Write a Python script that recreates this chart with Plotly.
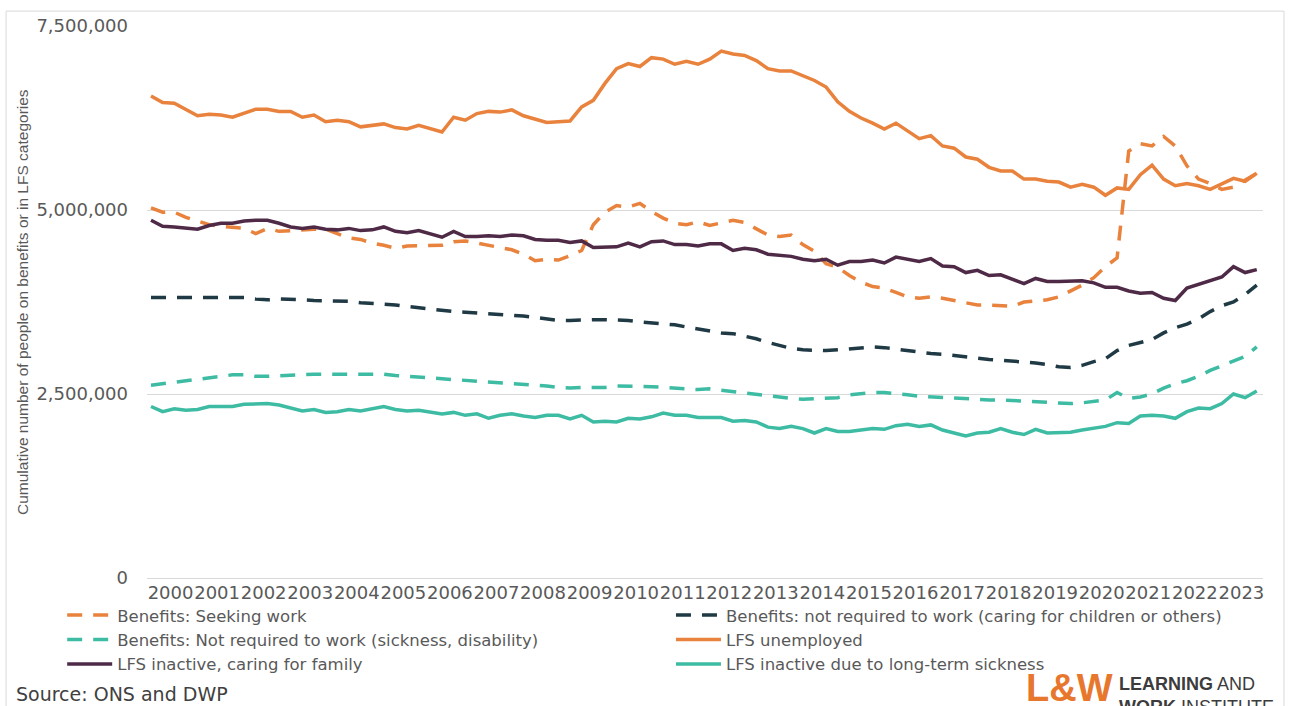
import plotly.graph_objects as go

years = list(range(2000, 2024))
x_q = [y + q / 4 for y in years for q in range(4)]
tick_labels = [str(y) for y in years]

# values in millions, quarterly 2000 Q1 .. 2023 Q4
lfs_unemployed = [
    6.55, 6.46, 6.45, 6.36, 6.28, 6.30, 6.29, 6.26, 6.32, 6.37, 6.37, 6.34, 6.34, 6.26, 6.29, 6.20,
    6.22, 6.20, 6.13, 6.15, 6.17, 6.12, 6.10, 6.15, 6.10,
    6.06, 6.26, 6.22, 6.31, 6.34, 6.33, 6.36, 6.28, 6.23, 6.19, 6.20, 6.21, 6.40, 6.49, 6.72,
    6.92, 6.99, 6.95, 7.07, 7.05, 6.98, 7.02, 6.98, 7.05,
    7.16, 7.12, 7.10, 7.03, 6.92, 6.89, 6.89, 6.82, 6.76, 6.67, 6.47, 6.34, 6.25, 6.18, 6.10,
    6.18, 6.08, 5.97, 6.01, 5.87, 5.84, 5.72, 5.69, 5.58,
    5.53, 5.53, 5.42, 5.42, 5.39, 5.38, 5.31, 5.35, 5.31, 5.20, 5.30, 5.28, 5.48, 5.61, 5.42,
    5.33, 5.36, 5.33, 5.28, 5.36, 5.43, 5.39, 5.50,
]
seeking_work = [
    5.03, 4.97, 4.97, 4.90, 4.85, 4.80, 4.78, 4.76, 4.75, 4.68, 4.75, 4.71, 4.72, 4.74, 4.74, 4.74,
    4.68, 4.62, 4.60, 4.55, 4.52, 4.48, 4.51, 4.51, 4.51, 4.52, 4.57, 4.58, 4.55, 4.52, 4.49, 4.46,
    4.40, 4.31, 4.33, 4.32, 4.38, 4.45, 4.80, 4.97, 5.06, 5.04, 5.09, 4.98, 4.89, 4.82, 4.80, 4.84,
    4.79, 4.83, 4.86, 4.83, 4.75, 4.66, 4.64, 4.66, 4.53, 4.44, 4.27, 4.22, 4.11, 4.02, 3.96, 3.94,
    3.88, 3.82, 3.80, 3.82, 3.80, 3.77, 3.73, 3.71, 3.71, 3.70, 3.69, 3.75, 3.77, 3.78, 3.82, 3.90,
    3.98, 4.08, 4.23, 4.35, 5.80, 5.90, 5.87, 6.00, 5.87, 5.60, 5.42, 5.36, 5.28, 5.31, 5.40, 5.50,
]
lfs_caring_family = [
    4.86, 4.78, 4.77, 4.75, 4.74, 4.79, 4.82, 4.82, 4.85, 4.86, 4.86, 4.82, 4.77, 4.75, 4.77, 4.74,
    4.73, 4.75, 4.72, 4.73, 4.77, 4.71, 4.69, 4.72, 4.68,
    4.63, 4.71, 4.64, 4.64, 4.65, 4.64, 4.66, 4.65, 4.60, 4.59, 4.59, 4.56, 4.58, 4.49, 4.49,
    4.50, 4.55, 4.50, 4.57, 4.58, 4.53, 4.53, 4.51, 4.54,
    4.54, 4.45, 4.48, 4.46, 4.40, 4.38, 4.37, 4.33, 4.31, 4.33, 4.25, 4.30, 4.30, 4.32, 4.28,
    4.36, 4.33, 4.30, 4.34, 4.24, 4.23, 4.15, 4.18, 4.11,
    4.12, 4.06, 4.00, 4.07, 4.03, 4.03, 4.03, 4.04, 4.01, 3.95, 3.95, 3.90, 3.87, 3.88, 3.80,
    3.77, 3.94, 3.99, 4.05, 4.09, 4.23, 4.15, 4.19,
]
caring_benefits = [
    3.81, 3.81, 3.81, 3.81, 3.81, 3.82, 3.82, 3.82, 3.81, 3.79, 3.78, 3.79, 3.79, 3.78, 3.77, 3.77,
    3.76, 3.76, 3.74, 3.73, 3.73, 3.71, 3.69, 3.67, 3.66, 3.64, 3.62, 3.61, 3.60, 3.60, 3.59, 3.57,
    3.56, 3.54, 3.52, 3.50, 3.50, 3.51, 3.51, 3.51, 3.51, 3.50, 3.48, 3.47, 3.46, 3.44, 3.41, 3.38,
    3.35, 3.33, 3.32, 3.29, 3.25, 3.20, 3.16, 3.12, 3.10, 3.09, 3.09, 3.10, 3.11, 3.13, 3.14, 3.13,
    3.11, 3.09, 3.06, 3.05, 3.04, 3.02, 3.00, 2.99, 2.97, 2.96, 2.95, 2.94, 2.92, 2.90, 2.87, 2.86,
    2.89, 2.94, 2.98, 3.09, 3.16, 3.20, 3.24, 3.33, 3.40, 3.45, 3.52, 3.62, 3.70, 3.75, 3.85, 3.98,
]
sickness_benefits = [
    2.62, 2.64, 2.66, 2.68, 2.70, 2.73, 2.75, 2.76, 2.76, 2.74, 2.74, 2.75, 2.76, 2.77, 2.77, 2.77,
    2.77, 2.77, 2.76, 2.77, 2.77, 2.75, 2.74, 2.72, 2.71, 2.70, 2.69, 2.68, 2.67, 2.67, 2.66, 2.64,
    2.63, 2.62, 2.61, 2.59, 2.58, 2.59, 2.59, 2.59, 2.61, 2.61, 2.60, 2.60, 2.59, 2.58, 2.57, 2.56,
    2.57, 2.55, 2.53, 2.52, 2.50, 2.48, 2.46, 2.44, 2.43, 2.44, 2.44, 2.45, 2.49, 2.51, 2.52, 2.52,
    2.51, 2.49, 2.47, 2.46, 2.46, 2.45, 2.44, 2.43, 2.42, 2.42, 2.41, 2.40, 2.39, 2.38, 2.38, 2.37,
    2.38, 2.40, 2.42, 2.52, 2.44, 2.46, 2.50, 2.58, 2.64, 2.68, 2.74, 2.82, 2.88, 2.95, 3.01, 3.14,
]
lfs_longterm_sick = [
    2.33, 2.26, 2.30, 2.28, 2.29, 2.33, 2.33, 2.33, 2.36, 2.37, 2.37, 2.35, 2.31, 2.27, 2.29, 2.25,
    2.26, 2.29, 2.27, 2.30, 2.33, 2.29, 2.27, 2.28, 2.25,
    2.23, 2.25, 2.21, 2.23, 2.17, 2.21, 2.23, 2.20, 2.18, 2.21, 2.21, 2.16, 2.21, 2.12, 2.13,
    2.12, 2.17, 2.16, 2.19, 2.24, 2.21, 2.21, 2.18, 2.18,
    2.18, 2.13, 2.14, 2.12, 2.05, 2.03, 2.06, 2.03, 1.97, 2.03, 1.99, 1.99, 2.01, 2.03, 2.02,
    2.07, 2.09, 2.06, 2.08, 2.01, 1.97, 1.93, 1.97, 1.98,
    2.03, 1.98, 1.95, 2.02, 1.97, 1.98, 1.98, 2.01, 2.03, 2.06, 2.11, 2.10, 2.20, 2.21, 2.20,
    2.17, 2.26, 2.31, 2.30, 2.37, 2.50, 2.45, 2.54,
]

ORANGE = "#E8823C"
PURPLE = "#4E2A47"
DARK = "#1F3A44"
TEAL = "#3DBCA3"
GREY = "#595959"
DASH = "15px,11px"
LW = 3.5

series = [
    ("Benefits: Seeking work", seeking_work, ORANGE, DASH, "legend"),
    ("Benefits: Not required to work (sickness, disability)", sickness_benefits, TEAL, DASH, "legend"),
    ("LFS inactive, caring for family", lfs_caring_family, PURPLE, "solid", "legend"),
    ("Benefits: not required to work (caring for children or others)", caring_benefits, DARK, DASH, "legend2"),
    ("LFS unemployed", lfs_unemployed, ORANGE, "solid", "legend2"),
    ("LFS inactive due to long-term sickness", lfs_longterm_sick, TEAL, "solid", "legend2"),
]

fig = go.Figure()
for name, vals, col, dash, leg in series:
    fig.add_trace(go.Scatter(
        x=x_q, y=[v * 1e6 for v in vals], name=name, mode="lines",
        line=dict(color=col, width=LW, dash=dash), legend=leg,
    ))

legend_common = dict(
    orientation="v", xanchor="left", yanchor="top", y=-0.036,
    font=dict(family="DejaVu Sans", size=16.5, color=GREY),
    bgcolor="rgba(0,0,0,0)", tracegroupgap=0, itemwidth=45,
)

fig.update_layout(
    width=1290, height=706,
    margin=dict(l=147, r=27, t=26, b=128, autoexpand=False),
    paper_bgcolor="white", plot_bgcolor="white",
    showlegend=True,
    legend=dict(x=-0.076, **legend_common),
    legend2=dict(x=0.4695, **legend_common),
    xaxis=dict(
        range=[1999.914, 2023.884], showgrid=False, zeroline=False,
        tickmode="array", tickvals=[y + 0.42 for y in years], ticktext=tick_labels,
        tickangle=0, ticks="", ticklabelstandoff=2,
        tickfont=dict(family="DejaVu Sans", size=18, color=GREY),
        showline=False,
    ),
    yaxis=dict(
        range=[0, 7.5e6], tickvals=[0, 2.5e6, 5e6, 7.5e6],
        ticktext=["0", "2,500,000", "5,000,000", "7,500,000"],
        showgrid=True, gridcolor="#D9D9D9", gridwidth=1,
        zeroline=True, zerolinecolor="#D9D9D9", zerolinewidth=1,
        ticks="", ticklabelstandoff=18,
        tickfont=dict(family="DejaVu Sans", size=18, color=GREY),
    ),
    shapes=[dict(type="rect", xref="paper", yref="paper",
                 x0=-0.1263, x1=1.0188, y0=-0.26, y1=1.027,
                 line=dict(color="#D9D9D9", width=1), fillcolor="rgba(0,0,0,0)", layer="below")],
    annotations=[
        dict(text="Cumulative number of people on benefits or in LFS categories",
             xref="paper", yref="paper", x=-0.112, y=0.5, textangle=-90,
             showarrow=False, font=dict(family="Liberation Sans", size=15.5, color=GREY),
             xanchor="center", yanchor="middle"),
        dict(text="Source: ONS and DWP", xref="paper", yref="paper",
             x=-0.119, y=-0.211, xanchor="left", yanchor="middle", showarrow=False,
             font=dict(family="DejaVu Sans", size=19, color="#404040")),
        dict(text="<b>L&amp;W</b>", xref="paper", yref="paper",
             x=0.7855, y=-0.158, xanchor="left", yanchor="top", showarrow=False,
             font=dict(family="Liberation Sans", size=38, color="#E8772E")),
        dict(text="<b>LEARNING</b> AND<br><b>WORK</b> INSTITUTE", xref="paper", yref="paper",
             x=0.8695, y=-0.17, xanchor="left", yanchor="top", align="left", showarrow=False,
             font=dict(family="Liberation Sans", size=18, color="#3C3C3C")),
    ],
)

fig.write_html("out.html")
